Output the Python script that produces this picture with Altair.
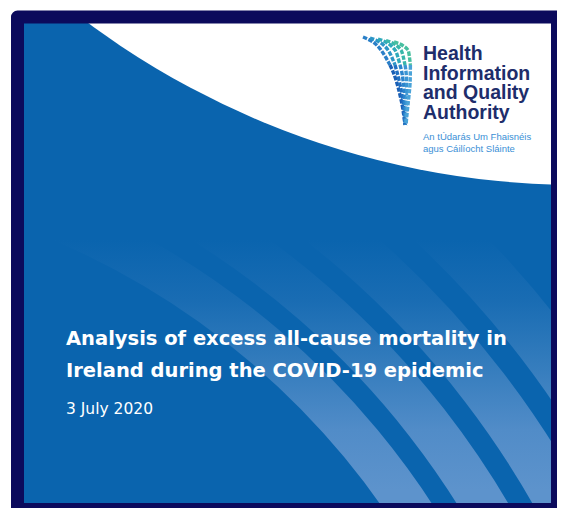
import math
import altair as alt
import pandas as pd

# ---------------- data (reference pixel coordinates) ----------------
NAVY = "#0b0a5c"
BLUE = "#0a64ae"

# frame / panel
panel_x = [20]; panel_x2 = [556]; panel_y = [20]; panel_y2 = [506]
frame_x = [17.5]; frame_x2 = [557.5]; frame_y = [17]; frame_y2 = [509.5]

# white swoosh (circle) at the top
swoosh_cx = [579]; swoosh_cy = [-640]; swoosh_r = [825]

# light stripes (concentric bands)
stripe_cx = [-250, -250, -250, -250]
stripe_cy = [950, 950, 950, 950]
stripe_inner = [772, 836, 901, 972]
stripe_outer = [815, 880, 949, 1025]
stripe_start = [0.363, 0.334, 0.309, 0.42]
stripe_end = [1.05, 1.10, 1.12, 1.0]

# stripe brightness by height on the page: (y, colour)
fade_y = [240, 300, 360, 430, 490]
fade_rgb = [(10, 100, 174), (25, 108, 179), (50, 123, 188), (81, 140, 200), (93, 147, 204)]

# logo strands
logo_y = [None, 50, 65, 80, 95, 110, 125]
logo_start = [(363, 37), (370, 38), (378, 39), (386, 40.5), (394, 42)]
logo_x = [
    [381, 390, 396, 400, 403, 405],
    [388, 395, 399, 402, 404, 405],
    [395, 400, 403, 404.5, 405, 405.3],
    [401, 405, 406.6, 406.7, 406.2, 405.5],
    [408, 410.4, 410.2, 409, 407.4, 406],
]
logo_top_col = ["#2a7fc8", "#2b95c6", "#2eaabb", "#38b6aa", "#47bfa0"]
logo_bot_col = ["#1a5fb5", "#2070c2", "#2a84cc", "#3a95d3", "#4aa3d8"]

# texts
org_lines = ["Health", "Information", "and Quality", "Authority"]
org_y = [60, 79.5, 99, 118.5]
irish_lines = ["An tÚdarás Um Fhaisnéis", "agus Cáilíocht Sláinte"]
irish_y = [140, 151.5]
title_lines = ["Analysis of excess all-cause mortality in",
               "Ireland during the COVID-19 epidemic"]
title_y = [345, 377]
date_text = ["3 July 2020"]
date_y = [414]

# ---------------- scales ----------------
xs = alt.Scale(domain=[8, 557], nice=False, zero=False)
ys = alt.Scale(domain=[8, 508], nice=False, zero=False, reverse=True)


def X(f):
    return alt.X(f, type="quantitative", scale=xs, axis=None)


def Y(f):
    return alt.Y(f, type="quantitative", scale=ys, axis=None)


def box(x, x2, y, y2):
    return pd.DataFrame({"x": x, "x2": x2, "y": y, "y2": y2})


def hexc(c):
    return "#%02x%02x%02x" % tuple(int(round(v)) for v in c)


def colour_at(y):
    if y <= fade_y[0]:
        return fade_rgb[0]
    if y >= fade_y[-1]:
        return fade_rgb[-1]
    for j in range(len(fade_y) - 1):
        if fade_y[j] <= y <= fade_y[j + 1]:
            t = (y - fade_y[j]) / (fade_y[j + 1] - fade_y[j])
            return tuple(a + (b - a) * t for a, b in zip(fade_rgb[j], fade_rgb[j + 1]))


def stripe_gradient(k):
    # vertical extent of the band's bounding box, to map page heights to gradient offsets
    top = stripe_cy[k] - stripe_outer[k] * math.cos(stripe_start[k])
    bot = stripe_cy[k] - stripe_inner[k] * math.cos(stripe_end[k])
    stops = [alt.GradientStop(color=hexc(colour_at(top)), offset=0)]
    for fy in fade_y:
        if top < fy < bot:
            stops.append(alt.GradientStop(color=hexc(colour_at(fy)), offset=(fy - top) / (bot - top)))
    stops.append(alt.GradientStop(color=hexc(colour_at(bot)), offset=1))
    return alt.LinearGradient(gradient="linear", stops=stops, x1=0, y1=0, x2=0, y2=1)


# panel
panel = alt.Chart(box(panel_x, panel_x2, panel_y, panel_y2)).mark_rect(
    color=BLUE, clip=True).encode(x=X("x"), x2="x2", y=Y("y"), y2="y2")

# stripes, one layer each so that each gets its own fade
stripe_layers = []
for k in range(len(stripe_inner)):
    df = pd.DataFrame({"cx": [stripe_cx[k]], "cy": [stripe_cy[k]], "r": [stripe_outer[k]],
                       "r2": [stripe_inner[k]], "t1": [stripe_start[k]], "t2": [stripe_end[k]]})
    stripe_layers.append(alt.Chart(df).mark_arc(fill=stripe_gradient(k), clip=True).encode(
        x=X("cx"), y=Y("cy"),
        radius=alt.Radius("r:Q", scale=None), radius2="r2:Q",
        theta=alt.Theta("t1:Q", scale=None, stack=None), theta2="t2:Q"))

# white swoosh
swoosh = alt.Chart(pd.DataFrame({"cx": swoosh_cx, "cy": swoosh_cy, "r": swoosh_r,
                                 "t1": [0.0], "t2": [6.2832]})).mark_arc(color="white", clip=True).encode(
    x=X("cx"), y=Y("cy"),
    radius=alt.Radius("r:Q", scale=None),
    theta=alt.Theta("t1:Q", scale=None, stack=None), theta2="t2:Q")

# frame
frame = alt.Chart(box(frame_x, frame_x2, frame_y, frame_y2)).mark_rect(
    filled=False, stroke=NAVY, strokeWidth=13, strokeJoin="round", clip=True).encode(
    x=X("x"), x2="x2", y=Y("y"), y2="y2")

# logo
rows = []
for k in range(5):
    pts = [logo_start[k]] + list(zip(logo_x[k], logo_y[1:]))
    for i, (px, py) in enumerate(pts[:3]):
        rows.append({"x": px, "y": py, "seg": f"{k}a", "i": i, "c": logo_top_col[k]})
    for i, (px, py) in enumerate(pts[2:]):
        rows.append({"x": px, "y": py, "seg": f"{k}b", "i": i, "c": logo_bot_col[k]})
logo = alt.Chart(pd.DataFrame(rows)).mark_line(strokeWidth=3.4, strokeDash=[4.5, 1.5], interpolate="monotone").encode(
    x=X("x"), y=Y("y"), detail="seg:N", order="i:Q", color=alt.Color("c:N", scale=None))

# texts
org = alt.Chart(pd.DataFrame({"x": [423] * 4, "y": org_y, "t": org_lines})).mark_text(
    align="left", baseline="alphabetic", font="Liberation Sans", fontSize=19.5, fontWeight="bold",
    color="#1e2d6b").encode(x=X("x"), y=Y("y"), text="t:N")
irish = alt.Chart(pd.DataFrame({"x": [423] * 2, "y": irish_y, "t": irish_lines})).mark_text(
    align="left", baseline="alphabetic", font="Liberation Sans", fontSize=9.5,
    color="#3a8fd6").encode(x=X("x"), y=Y("y"), text="t:N")
title = alt.Chart(pd.DataFrame({"x": [66] * 2, "y": title_y, "t": title_lines})).mark_text(
    align="left", baseline="alphabetic", font="DejaVu Sans", fontSize=19.5, fontWeight="bold",
    color="white").encode(x=X("x"), y=Y("y"), text="t:N")
date = alt.Chart(pd.DataFrame({"x": [66], "y": date_y, "t": date_text})).mark_text(
    align="left", baseline="alphabetic", font="DejaVu Sans", fontSize=15.5,
    color="white").encode(x=X("x"), y=Y("y"), text="t:N")

chart = alt.layer(panel, *stripe_layers, swoosh, frame, logo, org, irish, title, date).properties(
    width=549, height=500, padding=0, background="white").configure_view(stroke=None)

chart.save("out.html", embed_options={"renderer": "svg", "actions": False})
